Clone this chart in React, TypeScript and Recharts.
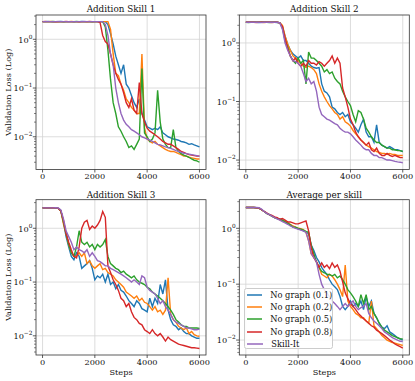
import React from 'react';
import { LineChart, Line, XAxis, YAxis, CartesianGrid, Legend } from 'recharts';

const W = 415;
const H = 381;
const FONT = "'DejaVu Serif', serif";

const steps = [
  0, 100, 200, 300, 400, 500, 600, 700, 800, 900,
  1000, 1100, 1200, 1300, 1400, 1500, 1600, 1700, 1800, 1900,
  2000, 2100, 2200, 2300, 2400, 2500, 2600, 2700, 2800, 2900,
  3000, 3100, 3200, 3300, 3400, 3500, 3600, 3700, 3800, 3900,
  4000, 4100, 4200, 4300, 4400, 4500, 4600, 4700, 4800, 4900,
  5000, 5100, 5200, 5300, 5400, 5500, 5600, 5700, 5800, 5900,
  6000,
];

const seriesNames = ['No graph (0.1)', 'No graph (0.2)', 'No graph (0.5)', 'No graph (0.8)', 'Skill-It'];
const seriesKeys = ['g01', 'g02', 'g05', 'g08', 'skillit'];
const seriesColors = ['#1f77b4', '#ff7f0e', '#2ca02c', '#d62728', '#9467bd'];
const xTicks = [0, 2000, 4000, 6000];
const yMajorTicks = [0.001, 0.01, 0.1, 1];
const panelTitles = ['Addition Skill 1', 'Addition Skill 2', 'Addition Skill 3', 'Average per skill'];

// ---------- Addition Skill 1 ----------
const s1_g01 = [
  2.3, 2.3, 2.31, 2.3, 2.29, 2.3, 2.3, 2.31, 2.3, 2.3,
  2.3, 2.3, 2.29, 2.3, 2.3, 2.31, 2.3, 2.3, 2.3, 2.3,
  2.3, 2.3, 2.3, 2.3, 2.3, 2.0, 1.3, 0.8, 0.45, 0.3,
  0.2, 0.3, 0.12, 0.1, 0.07, 0.05, 0.04, 0.06, 0.03, 0.022,
  0.016, 0.015, 0.014, 0.015, 0.014, 0.016, 0.012, 0.011, 0.01, 0.0095,
  0.009, 0.0088, 0.0085, 0.008, 0.0078, 0.0075, 0.007, 0.0072, 0.0068, 0.0065,
  0.0062,
];
const s1_g02 = [
  2.3, 2.3, 2.3, 2.31, 2.3, 2.3, 2.29, 2.3, 2.3, 2.3,
  2.3, 2.31, 2.3, 2.3, 2.3, 2.3, 2.3, 2.29, 2.3, 2.3,
  2.3, 2.3, 2.3, 2.3, 2.3, 2.3, 1.6, 0.5, 0.2, 0.18,
  0.12, 0.09, 0.06, 0.05, 0.04, 0.035, 0.03, 0.03, 0.5, 0.015,
  0.009, 0.008, 0.0075, 0.008, 0.007, 0.0065, 0.006, 0.0055, 0.0052, 0.005,
  0.005, 0.0048, 0.0045, 0.0043, 0.004, 0.004, 0.0038, 0.0037, 0.0036, 0.0035,
  0.0035,
];
const s1_g05 = [
  2.3, 2.3, 2.3, 2.3, 2.31, 2.3, 2.3, 2.3, 2.29, 2.3,
  2.3, 2.3, 2.3, 2.31, 2.3, 2.3, 2.3, 2.3, 2.3, 2.29,
  2.3, 2.3, 2.3, 2.3, 1.8, 0.6, 0.15, 0.05, 0.03, 0.016,
  0.013, 0.01, 0.008, 0.006, 0.0065, 0.0055, 0.007, 0.009, 0.25, 0.012,
  0.01, 0.008, 0.009, 0.012, 0.09, 0.02, 0.009, 0.007, 0.006, 0.006,
  0.014, 0.006, 0.005, 0.0045, 0.0042, 0.004, 0.0038, 0.0035, 0.0033, 0.0032,
  0.003,
];
const s1_g08 = [
  2.3, 2.31, 2.3, 2.3, 2.3, 2.29, 2.3, 2.3, 2.3, 2.31,
  2.3, 2.3, 2.3, 2.3, 2.29, 2.3, 2.3, 2.3, 2.31, 2.3,
  2.3, 2.3, 2.2, 1.2, 0.9, 0.8, 0.5, 0.3, 0.2, 0.15,
  0.12, 0.08, 0.05, 0.04, 0.06, 0.035, 0.03, 0.13, 0.03, 0.02,
  0.015, 0.013, 0.012, 0.011, 0.01, 0.009, 0.008, 0.0075, 0.007, 0.007,
  0.0065, 0.006, 0.0055, 0.005, 0.0048, 0.0045, 0.0043, 0.0042, 0.0041, 0.004,
  0.004,
];
const s1_skillit = [
  2.3, 2.3, 2.3, 2.3, 2.3, 2.3, 2.31, 2.3, 2.3, 2.3,
  2.29, 2.3, 2.3, 2.3, 2.3, 2.3, 2.31, 2.3, 2.3, 2.3,
  2.3, 2.3, 2.3, 2.3, 2.0, 1.2, 0.5, 0.3, 0.1, 0.05,
  0.03, 0.022, 0.018, 0.016, 0.014, 0.013, 0.012, 0.011, 0.01, 0.0095,
  0.009, 0.0085, 0.008, 0.0075, 0.007, 0.0068, 0.0065, 0.0062, 0.006, 0.0058,
  0.0055, 0.0052, 0.005, 0.0048, 0.0046, 0.0045, 0.0044, 0.0043, 0.0042, 0.0041,
  0.004,
];

// ---------- Addition Skill 2 ----------
const s2_g01 = [
  2.25, 2.25, 2.26, 2.25, 2.25, 2.24, 2.25, 2.25, 2.26, 2.25,
  2.25, 2.25, 2.24, 2.2, 1.9, 1.3, 0.95, 0.75, 0.65, 0.6,
  0.55, 0.6, 0.5, 0.5, 0.45, 0.4, 0.38, 0.37, 0.38, 0.2,
  0.15, 0.14, 0.12, 0.08, 0.075, 0.065, 0.06, 0.065, 0.055, 0.06,
  0.045, 0.04, 0.035, 0.03, 0.04, 0.05, 0.03, 0.025, 0.025, 0.02,
  0.04, 0.02, 0.018, 0.017, 0.016, 0.017, 0.016, 0.015, 0.015, 0.0145,
  0.014,
];
const s2_g02 = [
  2.25, 2.25, 2.25, 2.26, 2.25, 2.25, 2.25, 2.24, 2.25, 2.25,
  2.25, 2.26, 2.25, 2.2, 2.0, 1.3, 0.95, 0.75, 0.6, 0.55,
  0.5, 0.45, 0.4, 0.38, 0.4, 0.38, 0.35, 0.3, 0.2, 0.15,
  0.12, 0.1, 0.085, 0.075, 0.065, 0.06, 0.05, 0.055, 0.045, 0.042,
  0.038, 0.032, 0.028, 0.025, 0.022, 0.02, 0.018, 0.017, 0.016, 0.015,
  0.014, 0.0135, 0.013, 0.013, 0.0125, 0.013, 0.0125, 0.0125, 0.012, 0.012,
  0.012,
];
const s2_g05 = [
  2.25, 2.24, 2.25, 2.25, 2.25, 2.26, 2.25, 2.25, 2.25, 2.24,
  2.25, 2.25, 2.25, 2.2, 1.8, 1.1, 0.85, 0.6, 0.5, 0.45,
  0.55, 0.45, 0.5, 0.2, 0.7, 0.55, 0.55, 0.5, 0.45, 0.4,
  0.32, 0.35, 0.3, 0.32, 0.25, 0.22, 0.2, 0.15, 0.12, 0.1,
  0.085, 0.06, 0.045, 0.07, 0.065, 0.05, 0.035, 0.03, 0.025, 0.022,
  0.02, 0.02, 0.018, 0.017, 0.016, 0.016, 0.015, 0.015, 0.0145, 0.0145,
  0.014,
];
const s2_g08 = [
  2.25, 2.25, 2.25, 2.25, 2.24, 2.25, 2.26, 2.25, 2.25, 2.25,
  2.24, 2.25, 2.25, 2.2, 1.9, 1.2, 0.8, 0.6, 0.5, 0.55,
  0.45, 0.4, 0.45, 0.4, 0.5, 0.45, 0.45, 0.42, 0.48, 0.45,
  0.4, 0.45, 0.5, 0.6, 0.45, 0.55, 0.45, 0.17, 0.12, 0.08,
  0.05, 0.04, 0.03, 0.025, 0.022, 0.02, 0.018, 0.02, 0.015, 0.014,
  0.016, 0.013, 0.012, 0.012, 0.013, 0.012, 0.0115, 0.012, 0.0115, 0.011,
  0.011,
];
const s2_skillit = [
  2.25, 2.25, 2.25, 2.25, 2.25, 2.25, 2.24, 2.25, 2.25, 2.26,
  2.25, 2.25, 2.25, 2.2, 1.7, 1.0, 0.75, 0.6, 0.5, 0.48,
  0.45, 0.4, 0.3, 0.22, 0.25, 0.2, 0.22, 0.15, 0.08, 0.06,
  0.055, 0.05, 0.048, 0.045, 0.042, 0.04, 0.035, 0.032, 0.03, 0.03,
  0.028, 0.025, 0.022, 0.02, 0.018, 0.016, 0.015, 0.015, 0.013, 0.012,
  0.012, 0.011, 0.011, 0.0105, 0.01, 0.01, 0.0098, 0.0095, 0.0093, 0.0092,
  0.009,
];

// ---------- Addition Skill 3 ----------
const s3_g01 = [
  2.4, 2.4, 2.41, 2.4, 2.4, 2.39, 2.35, 2.1, 1.3, 0.7,
  0.45, 0.3, 0.26, 0.35, 0.3, 0.18, 0.2, 0.22, 0.25, 0.18,
  0.11, 0.13, 0.12, 0.14, 0.1, 0.14, 0.09, 0.1, 0.075, 0.09,
  0.07, 0.065, 0.055, 0.045, 0.04, 0.035, 0.045, 0.04, 0.032, 0.03,
  0.028, 0.05, 0.035, 0.05, 0.04, 0.09, 0.06, 0.11, 0.03, 0.02,
  0.016, 0.015, 0.013, 0.014, 0.012, 0.011, 0.011, 0.01, 0.0095, 0.009,
  0.009,
];
const s3_g02 = [
  2.4, 2.4, 2.4, 2.41, 2.4, 2.4, 2.35, 2.1, 1.2, 0.8,
  0.5, 0.35, 0.3, 0.3, 0.35, 0.3, 0.35, 0.22, 0.25, 0.2,
  0.18, 0.2, 0.22, 0.17, 0.18, 0.15, 0.14, 0.13, 0.11, 0.1,
  0.09, 0.08, 0.065, 0.06, 0.055, 0.05, 0.055, 0.045, 0.05, 0.042,
  0.04, 0.035, 0.03, 0.035, 0.028, 0.03, 0.025, 0.03, 0.12, 0.025,
  0.02, 0.018, 0.015, 0.014, 0.013, 0.014, 0.011, 0.012, 0.0105, 0.01,
  0.0098,
];
const s3_g05 = [
  2.4, 2.41, 2.4, 2.4, 2.4, 2.4, 2.35, 2.1, 1.3, 0.8,
  0.5, 0.35, 0.3, 0.45, 0.9, 0.55, 0.5, 0.55, 0.45, 0.5,
  0.4, 0.5, 0.45, 0.5, 0.62, 0.3, 0.22, 0.2, 0.18, 0.17,
  0.15, 0.16, 0.14, 0.13, 0.12, 0.13, 0.11, 0.1, 0.095, 0.09,
  0.08, 0.075, 0.065, 0.06, 0.055, 0.05, 0.045, 0.04, 0.035, 0.03,
  0.025, 0.02, 0.018, 0.016, 0.015, 0.015, 0.014, 0.014, 0.014, 0.014,
  0.0137,
];
const s3_g08 = [
  2.4, 2.4, 2.4, 2.4, 2.41, 2.4, 2.35, 2.1, 1.4, 0.8,
  0.55, 0.4, 0.3, 0.28, 0.45, 1.0, 1.3, 1.4, 0.95, 1.1,
  1.0, 1.15, 1.4, 2.05, 1.6, 0.2, 0.15, 0.11, 0.09, 0.07,
  0.05, 0.045, 0.035, 0.04, 0.028, 0.022, 0.02, 0.017, 0.016, 0.013,
  0.012, 0.011, 0.013, 0.011, 0.01, 0.011, 0.0095, 0.008, 0.0095, 0.0085,
  0.008, 0.0075, 0.007, 0.0068, 0.0066, 0.0064, 0.0062, 0.006, 0.006, 0.0059,
  0.0058,
];
const s3_skillit = [
  2.4, 2.4, 2.4, 2.4, 2.4, 2.41, 2.38, 2.2, 1.5, 0.9,
  0.7, 0.55, 0.4, 0.45, 0.4, 0.38, 0.35, 0.4, 0.3, 0.35,
  0.3, 0.25, 0.24, 0.22, 0.2, 0.2, 0.18, 0.17, 0.16, 0.15,
  0.14, 0.13, 0.12, 0.11, 0.1, 0.11, 0.1, 0.09, 0.13, 0.12,
  0.08, 0.07, 0.065, 0.06, 0.05, 0.04, 0.045, 0.035, 0.03, 0.025,
  0.02, 0.018, 0.017, 0.016, 0.015, 0.014, 0.014, 0.0135, 0.013, 0.013,
  0.0133,
];

// ---------- Average per skill ----------
const s4_g01 = [
  2.35, 2.35, 2.35, 2.35, 2.33, 2.3, 2.15, 2.0, 1.85, 1.75,
  1.65, 1.55, 1.5, 1.45, 1.4, 1.32, 1.25, 1.15, 1.08, 1.02,
  0.98, 0.95, 0.9, 0.85, 0.8, 0.5, 0.4, 0.3, 0.25, 0.2,
  0.17, 0.15, 0.12, 0.1, 0.09, 0.08, 0.06, 0.04, 0.035, 0.04,
  0.05, 0.04, 0.045, 0.04, 0.05, 0.035, 0.06, 0.04, 0.05, 0.03,
  0.025, 0.02, 0.017, 0.016, 0.018, 0.014, 0.013, 0.012, 0.011, 0.0105,
  0.01,
];
const s4_g02 = [
  2.35, 2.35, 2.35, 2.35, 2.33, 2.3, 2.15, 2.0, 1.85, 1.75,
  1.65, 1.55, 1.5, 1.42, 1.38, 1.32, 1.25, 1.18, 1.1, 1.05,
  1.0, 0.98, 0.95, 0.85, 0.6, 0.35, 0.3, 0.25, 0.2, 0.15,
  0.14, 0.13, 0.15, 0.14, 0.12, 0.1, 0.08, 0.06, 0.22, 0.05,
  0.04, 0.035, 0.03, 0.028, 0.025, 0.025, 0.022, 0.02, 0.05, 0.018,
  0.016, 0.014, 0.012, 0.011, 0.01, 0.0095, 0.009, 0.0088, 0.0085, 0.0083,
  0.008,
];
const s4_g05 = [
  2.35, 2.35, 2.35, 2.35, 2.33, 2.3, 2.15, 2.0, 1.85, 1.75,
  1.65, 1.55, 1.5, 1.45, 1.38, 1.3, 1.22, 1.15, 1.05, 1.05,
  1.0, 0.97, 0.93, 0.88, 0.85, 0.5, 0.35, 0.25, 0.2, 0.17,
  0.16, 0.15, 0.15, 0.14, 0.15, 0.13, 0.14, 0.12, 0.1, 0.08,
  0.07, 0.06, 0.05, 0.04, 0.065, 0.045, 0.065, 0.035, 0.04, 0.03,
  0.025, 0.02, 0.017, 0.015, 0.014, 0.013, 0.012, 0.0115, 0.011, 0.0105,
  0.0105,
];
const s4_g08 = [
  2.35, 2.35, 2.35, 2.35, 2.33, 2.3, 2.15, 2.0, 1.9, 1.75,
  1.7, 1.6, 1.55, 1.45, 1.5, 1.4, 1.3, 1.3, 1.25, 1.2,
  1.2, 1.25, 1.3, 1.35, 0.9, 0.45, 0.3, 0.25, 0.2, 0.24,
  0.2, 0.22, 0.19, 0.24, 0.2, 0.22, 0.17, 0.11, 0.07, 0.055,
  0.045, 0.04, 0.035, 0.03, 0.027, 0.024, 0.022, 0.02, 0.018, 0.017,
  0.015, 0.014, 0.013, 0.012, 0.011, 0.01, 0.0093, 0.0085, 0.008, 0.0076,
  0.0072,
];
const s4_skillit = [
  2.35, 2.35, 2.35, 2.35, 2.35, 2.33, 2.2, 2.0, 1.85, 1.75,
  1.65, 1.55, 1.48, 1.4, 1.32, 1.25, 1.18, 1.1, 1.05, 1.0,
  0.97, 0.93, 0.9, 0.85, 0.6, 0.35, 0.3, 0.25, 0.15, 0.1,
  0.08, 0.07, 0.06, 0.05, 0.045, 0.04, 0.035, 0.04, 0.045, 0.04,
  0.045, 0.05, 0.04, 0.035, 0.038, 0.04, 0.045, 0.03, 0.025, 0.022,
  0.02, 0.018, 0.016, 0.014, 0.013, 0.012, 0.011, 0.0105, 0.01, 0.0095,
  0.0094,
];

const panelSeries = [
  [s1_g01, s1_g02, s1_g05, s1_g08, s1_skillit],
  [s2_g01, s2_g02, s2_g05, s2_g08, s2_skillit],
  [s3_g01, s3_g02, s3_g05, s3_g08, s3_skillit],
  [s4_g01, s4_g02, s4_g05, s4_g08, s4_skillit],
];

const panelYDomains: [number, number][] = [
  [0.00213, 3.15],
  [0.0069, 3.0],
  [0.0044, 3.4],
  [0.0054, 3.25],
];

// layout (pixel boxes of the four plot areas)
const PW = 170;
const boxes = [
  { left: 36, top: 15, width: PW, height: 154.5 },
  { left: 239.3, top: 15, width: PW, height: 154.5 },
  { left: 36, top: 199.7, width: PW, height: 155.3 },
  { left: 239.3, top: 199.7, width: PW, height: 155.3 },
];
const YAX_W = 30;
const XAX_H = 20;
const X_DOMAIN: [number, number] = [-250, 6250];

const minorMultipliers = [2, 3, 4, 5, 6, 7, 8, 9];

function buildTicks(domain: [number, number]) {
  const out: number[] = [];
  for (const m of yMajorTicks) {
    if (m >= domain[0] && m <= domain[1]) out.push(m);
    for (const k of minorMultipliers) {
      const v = parseFloat((m * k).toPrecision(3));
      if (v >= domain[0] && v <= domain[1]) out.push(v);
    }
  }
  return out.sort((a, b) => a - b);
}

const YTick = (props: any) => {
  const { x, y, payload } = props;
  const v = payload.value as number;
  const lg = Math.log10(v);
  const e = Math.round(lg);
  const major = Math.abs(lg - e) < 1e-6;
  if (!major) {
    return <line x1={x} x2={x - 2} y1={y} y2={y} stroke="#333" strokeWidth={0.6} />;
  }
  const sup = e < 0 ? '\u2212' + String(-e) : String(e);
  return (
    <g>
      <line x1={x} x2={x - 3.2} y1={y} y2={y} stroke="#333" strokeWidth={0.8} />
      <text x={x - 3.6} y={y + 3.3} textAnchor="end" fontFamily={FONT} fontSize={8.2} fill="#111">
        10
        <tspan fontSize={5.8} dy={-4}>
          {sup}
        </tspan>
      </text>
    </g>
  );
};

const LegendBox = (props: any) => {
  const payload = (props.payload || []) as any[];
  return (
    <div
      style={{
        width: 89,
        height: 61,
        boxSizing: 'border-box',
        background: 'rgba(255,255,255,0.85)',
        border: '0.8px solid #cccccc',
        borderRadius: 2.5,
        paddingTop: 0,
        paddingLeft: 2,
      }}
    >
      {payload.map((entry: any) => (
        <div key={entry.value} style={{ display: 'flex', alignItems: 'center', height: 12.1 }}>
          <svg width={16} height={4} style={{ display: 'block' }}>
            <line x1={0} y1={2} x2={16} y2={2} stroke={entry.color} strokeWidth={1.5} />
          </svg>
          <span
            style={{
              marginLeft: 8,
              fontFamily: FONT,
              fontSize: 8.3,
              lineHeight: '12px',
              color: '#111',
              whiteSpace: 'nowrap',
            }}
          >
            {entry.value}
          </span>
        </div>
      ))}
    </div>
  );
};

function Panel({ index }: { index: number }) {
  const box = boxes[index];
  const series = panelSeries[index];
  const yDomain = panelYDomains[index];
  const data = steps.map((s, i) => {
    const row: any = { step: s };
    seriesKeys.forEach((k, j) => {
      row[k] = series[j][i];
    });
    return row;
  });
  const margin = {
    top: box.top,
    left: box.left - YAX_W,
    right: W - box.left - box.width,
    bottom: H - box.top - box.height - XAX_H,
  };
  return (
    <div style={{ position: 'absolute', left: 0, top: 0, width: W, height: H }}>
      <LineChart width={W} height={H} data={data} margin={margin}>
        <CartesianGrid
          stroke="#d4d4d4"
          strokeWidth={0.8}
          horizontalValues={[0.01, 0.1, 1]}
          verticalValues={xTicks}
        />
        <XAxis
          dataKey="step"
          type="number"
          domain={X_DOMAIN}
          allowDataOverflow
          ticks={xTicks}
          interval={0}
          height={XAX_H}
          axisLine={false}
          tickSize={3}
          tickMargin={1}
          tickLine={{ stroke: '#333', strokeWidth: 0.8 }}
          tick={{ fontSize: 8.2, fontFamily: FONT, fill: '#111' }}
        />
        <YAxis
          scale="log"
          domain={yDomain}
          allowDataOverflow
          ticks={buildTicks(yDomain)}
          interval={0}
          width={YAX_W}
          axisLine={false}
          tickLine={false}
          tickSize={0}
          tickMargin={0}
          tick={<YTick />}
        />
        {seriesKeys.map((k, j) => (
          <Line
            key={k}
            type="linear"
            dataKey={k}
            name={seriesNames[j]}
            stroke={seriesColors[j]}
            strokeWidth={1.4}
            dot={false}
            isAnimationActive={false}
          />
        ))}
        {index === 3 && (
          <Legend
            layout="vertical"
            align="center"
            verticalAlign="middle"
            content={<LegendBox />}
            wrapperStyle={{ left: 244.3, top: 288.2, width: 89, height: 61 }}
          />
        )}
      </LineChart>
    </div>
  );
}

export default function App() {
  return (
    <div style={{ position: 'absolute', left: 0, top: 0, width: W, height: H, background: '#fff' }}>
      {[0, 1, 2, 3].map((i) => (
        <Panel key={i} index={i} />
      ))}
      <svg
        width={W}
        height={H}
        style={{ position: 'absolute', left: 0, top: 0, pointerEvents: 'none' }}
      >
        {boxes.map((b, i) => (
          <g key={i}>
            <rect x={b.left} y={b.top} width={b.width} height={b.height} fill="none" stroke="#333" strokeWidth={0.8} />
            <text
              x={b.left + b.width / 2}
              y={i < 2 ? b.top - 3 : b.top - 2.2}
              textAnchor="middle"
              fontFamily={FONT}
              fontSize={8.8}
              fill="#111"
            >
              {panelTitles[i]}
            </text>
          </g>
        ))}
        {[0, 2].map((i) => (
          <text
            key={'yl' + i}
            transform={`translate(10.5, ${boxes[i].top + boxes[i].height / 2}) rotate(-90)`}
            textAnchor="middle"
            fontFamily={FONT}
            fontSize={8.2}
            fill="#111"
          >
            Validation Loss (Log)
          </text>
        ))}
        {[2, 3].map((i) => (
          <text
            key={'xl' + i}
            x={boxes[i].left + boxes[i].width / 2}
            y={375}
            textAnchor="middle"
            fontFamily={FONT}
            fontSize={8.2}
            fill="#111"
          >
            Steps
          </text>
        ))}
      </svg>
    </div>
  );
}
